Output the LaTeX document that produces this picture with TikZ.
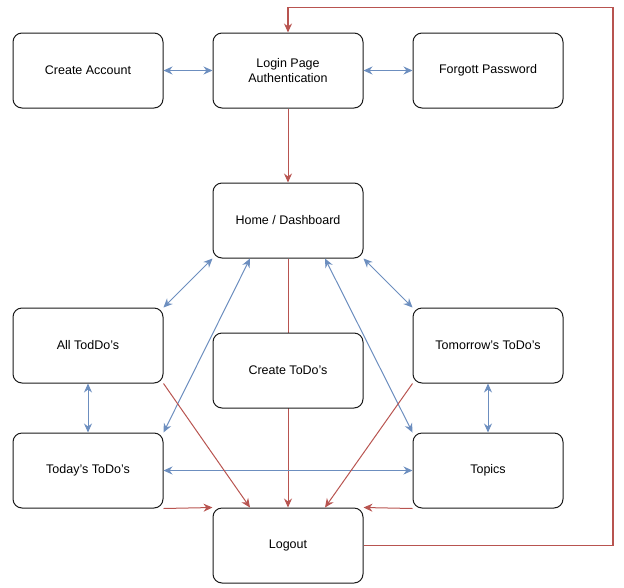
\documentclass[tikz,border=0pt]{standalone}
\usepackage{fontspec}
\setmainfont{Liberation Sans}
\usetikzlibrary{arrows.meta}
\definecolor{LinkBlue}{HTML}{6C8EBF}
\definecolor{FlowRed}{HTML}{B85450}
\definecolor{Edge}{HTML}{1A1A1A}

\begin{document}
\begin{tikzpicture}[x=1pt,y=-1pt,
    page/.style={draw=Edge,line width=1pt,fill=white,rounded corners=9pt,
      minimum width=150pt,minimum height=75pt,inner sep=2pt,align=center,
      font=\fontsize{12.5}{14.5}\selectfont},
    link/.style={draw=LinkBlue,line width=1pt,{Stealth[length=9pt,width=8pt]}-{Stealth[length=9pt,width=8pt]}},
    flow/.style={draw=FlowRed,line width=1pt,-{Stealth[length=9pt,width=8pt]}}]
    \useasboundingbox (0,0) rectangle (624,587);

    \node[page] (account) at (88,70.5) {Create Account};
    \node[page] (login) at (288,70.5) {Login Page\\Authentication};
    \node[page] (forgot) at (488,70.5) {Forgott Password};
    \node[page] (home) at (288,220.5) {Home / Dashboard};
    \node[page] (all) at (88,345.5) {All TodDo's};
    \node[page] (tomorrow) at (488,345.5) {Tomorrow's ToDo's};
    \node[page] (today) at (88,470.5) {Today's ToDo's};
    \node[page] (topics) at (488,470.5) {Topics};
    \node[page] (logout) at (288,545.5) {Logout};

    % login row
    \draw[link] (account) -- (login);
    \draw[link] (login) -- (forgot);
    \draw[flow] (login) -- (home);

    % dashboard links
    \draw[flow] (home) -- (logout);
    \draw[link] (home.south west) -- (all.north east);
    \draw[link] ([xshift=-38pt]home.south) -- (today.north east);
    \draw[link] ([xshift=37pt]home.south) -- (topics.north west);
    \draw[link] (home.south east) -- (tomorrow.north west);
    \draw[link] (all) -- (today);
    \draw[link] (tomorrow) -- (topics);
    \draw[link] (today) -- (topics);

    \node[page] (create) at (288,370.5) {Create ToDo's};

    % to logout
    \draw[flow] (all.south east) -- ([xshift=-38pt]logout.north);
    \draw[flow] (tomorrow.south west) -- ([xshift=37pt]logout.north);
    \draw[flow] (today.south east) -- (logout.north west);
    \draw[flow] (topics.south west) -- (logout.north east);
    \coordinate (turn) at ([xshift=325pt,yshift=25pt]login.north);
    \draw[flow,line width=1.3pt] (logout.east) -| (turn) -| (login.north);
\end{tikzpicture}
\end{document}
